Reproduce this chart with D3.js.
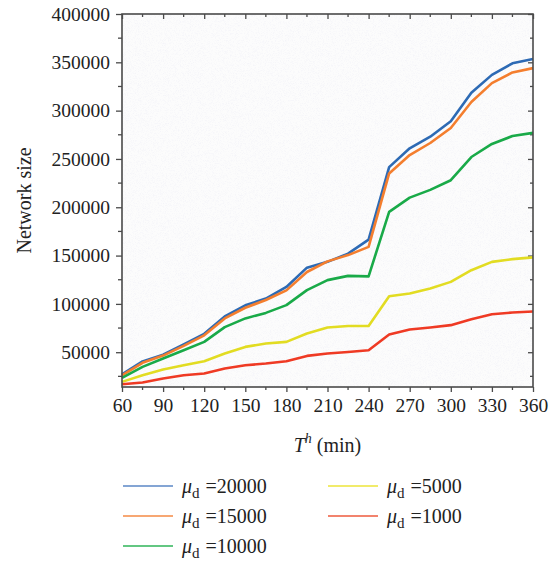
<!DOCTYPE html>
<html>
<head>
<meta charset="utf-8">
<script src="https://cdn.jsdelivr.net/npm/d3@7"></script>
<style>
  body { margin: 0; background: #fff; }
  svg { display: block; font-family: "Liberation Serif", "DejaVu Serif", serif; }
</style>
</head>
<body>
<div id="chart"></div>
<script>
/**
 * DATA
 * */
const times = [60, 75, 90, 105, 120, 135, 150, 165, 180, 195, 210, 225, 240, 255, 270, 285, 300, 315, 330, 345, 360];

const mu20000 = [27000, 40500, 47500, 58000, 69000, 87000, 98500, 105500, 117500, 137500, 143500, 152000, 166500, 241500, 261000, 273000, 289000, 318500, 337000, 349000, 353500];
const mu15000 = [26000, 39000, 46500, 56500, 67500, 85000, 96000, 104000, 114000, 133000, 144000, 150500, 159000, 235000, 254000, 266500, 282000, 309000, 328500, 339500, 344000];
const mu10000 = [23500, 34800, 43500, 52000, 60700, 76000, 85000, 90700, 98700, 114200, 124600, 129000, 128500, 195300, 210000, 218000, 228000, 252000, 265500, 273700, 277000];
const mu5000 = [19300, 26200, 32100, 36500, 40700, 48600, 55500, 59000, 60700, 69300, 75600, 77200, 77200, 108000, 110800, 116000, 122800, 134900, 143500, 146300, 148100];
const mu1000 = [16900, 18600, 22800, 26200, 27900, 33100, 36500, 38300, 40700, 46200, 48600, 50300, 52100, 68300, 73500, 75600, 78000, 84200, 89300, 91100, 92100];

const seriesNames = ["20000", "15000", "10000", "5000", "1000"];
const seriesValues = [mu20000, mu15000, mu10000, mu5000, mu1000];
const seriesColors = ["#2d6ab4", "#f47e2e", "#19aa48", "#e2dc22", "#ef3a24"];
const legendColors = ["#5b87c6", "#f58a45", "#2fb458", "#ece43a", "#ee5a3c"];

const xTicks = [60, 90, 120, 150, 180, 210, 240, 270, 300, 330, 360];
const yTicks = [50000, 100000, 150000, 200000, 250000, 300000, 350000, 400000];

/**
 * CONSTANTS
 * */
const width = 558, height = 561;
const margin = { top: 14, left: 122, right: 25, bottom: 174 };
const plotW = width - margin.left - margin.right;
const plotH = height - margin.top - margin.bottom;
const frameColor = "#4a4a4a";

const svg = d3.select("#chart").append("svg")
  .attr("width", width)
  .attr("height", height);

const x = d3.scaleLinear().domain([60, 360]).range([margin.left, margin.left + plotW]);
const y = d3.scaleLinear().domain([14000, 400000]).range([margin.top + plotH, margin.top]);

// speckled plot background
const defs = svg.append("defs");
const noise = defs.append("filter").attr("id", "speckle")
  .attr("x", 0).attr("y", 0).attr("width", "100%").attr("height", "100%");
noise.append("feTurbulence").attr("type", "fractalNoise").attr("baseFrequency", 1.4).attr("numOctaves", 1).attr("seed", 3).attr("result", "n");
noise.append("feColorMatrix").attr("in", "n").attr("type", "matrix")
  .attr("values", "0 0 0 0 0.6  0 0 0 0 0.6  0 0 0 0 0.8  0 0 0 -2.2 1.2");

svg.append("rect")
  .attr("x", margin.left).attr("y", margin.top)
  .attr("width", plotW).attr("height", plotH)
  .attr("fill", "#fcfcfc");
svg.append("rect")
  .attr("x", margin.left).attr("y", margin.top)
  .attr("width", plotW).attr("height", plotH)
  .attr("filter", "url(#speckle)")
  .attr("opacity", 0.2);

// axes
const minorX = d3.range(75, 360, 30);
const minorY = d3.range(25000, 400000, 50000);

const bottomAxis = svg.append("g").attr("transform", `translate(0,${margin.top + plotH})`);
bottomAxis.call(d3.axisBottom(x).tickValues(xTicks).tickSize(5).tickPadding(6).tickFormat(d3.format("d")));
bottomAxis.selectAll(".minor").data(minorX).join("line").attr("class", "minor")
  .attr("x1", d => x(d)).attr("x2", d => x(d)).attr("y1", 0).attr("y2", 3);

const leftAxis = svg.append("g").attr("transform", `translate(${margin.left},0)`);
leftAxis.call(d3.axisLeft(y).tickValues(yTicks).tickSize(6).tickPadding(6).tickFormat(d3.format("d")));
leftAxis.selectAll(".minor").data(minorY).join("line").attr("class", "minor")
  .attr("y1", d => y(d)).attr("y2", d => y(d)).attr("x1", 0).attr("x2", -4);

const topAxis = svg.append("g").attr("transform", `translate(0,${margin.top})`);
topAxis.call(d3.axisBottom(x).tickValues(xTicks).tickSize(5).tickFormat(""));
topAxis.selectAll(".minor").data(minorX).join("line").attr("class", "minor")
  .attr("x1", d => x(d)).attr("x2", d => x(d)).attr("y1", 0).attr("y2", 3);

const rightAxis = svg.append("g").attr("transform", `translate(${margin.left + plotW},0)`);
rightAxis.call(d3.axisLeft(y).tickValues(yTicks).tickSize(5).tickFormat(""));
rightAxis.selectAll(".minor").data(minorY).join("line").attr("class", "minor")
  .attr("y1", d => y(d)).attr("y2", d => y(d)).attr("x1", 0).attr("x2", -3);

svg.selectAll(".domain").remove();
svg.selectAll(".tick line, .minor").attr("stroke", frameColor).attr("stroke-width", 1.3);
svg.selectAll(".tick text")
  .attr("fill", "#222")
  .style("font-size", "19.5px")
  .style("font-family", "'Liberation Serif', 'DejaVu Serif', serif");

// lines
const line = d3.line()
  .x((d, i) => x(times[i]))
  .y(d => y(d));

svg.append("g").selectAll("path")
  .data(seriesValues)
  .join("path")
  .attr("d", d => line(d))
  .attr("fill", "none")
  .attr("stroke", (d, i) => seriesColors[i])
  .attr("stroke-width", 2.6)
  .attr("stroke-linejoin", "round");

// frame
svg.append("rect")
  .attr("x", margin.left).attr("y", margin.top)
  .attr("width", plotW).attr("height", plotH)
  .attr("fill", "none")
  .attr("stroke", frameColor)
  .attr("stroke-width", 1.6);

// axis titles
svg.append("text")
  .attr("transform", `translate(31,${margin.top + plotH / 2}) rotate(-90)`)
  .attr("text-anchor", "middle")
  .attr("fill", "#222")
  .style("font-size", "20px")
  .text("Network size");

const xt = svg.append("text")
  .attr("x", margin.left + plotW / 2)
  .attr("y", 452)
  .attr("text-anchor", "middle")
  .attr("fill", "#222")
  .style("font-size", "20px");
xt.append("tspan").style("font-style", "italic").text("T");
xt.append("tspan").style("font-style", "italic").style("font-size", "14px").attr("dy", -9).text("h");
xt.append("tspan").attr("dy", 9).text(" (min)");

// legend
const legendPos = [[123, 486], [123, 516], [123, 546], [328, 486], [328, 516]];
const legend = svg.append("g").selectAll("g")
  .data(seriesNames)
  .join("g")
  .attr("transform", (d, i) => `translate(${legendPos[i][0]},${legendPos[i][1]})`);

legend.append("line")
  .attr("x1", 0).attr("x2", 50)
  .attr("stroke", (d, i) => legendColors[i])
  .attr("stroke-width", 1.6);

const lt = legend.append("text")
  .attr("x", 59).attr("y", 7)
  .attr("fill", "#222")
  .style("font-size", "20px");
lt.append("tspan").style("font-style", "italic").text("μ");
lt.append("tspan").style("font-size", "15px").attr("dy", 5).text("d");
lt.append("tspan").attr("dy", -5).attr("dx", 6).text(d => "=" + d);
</script>
</body>
</html>
